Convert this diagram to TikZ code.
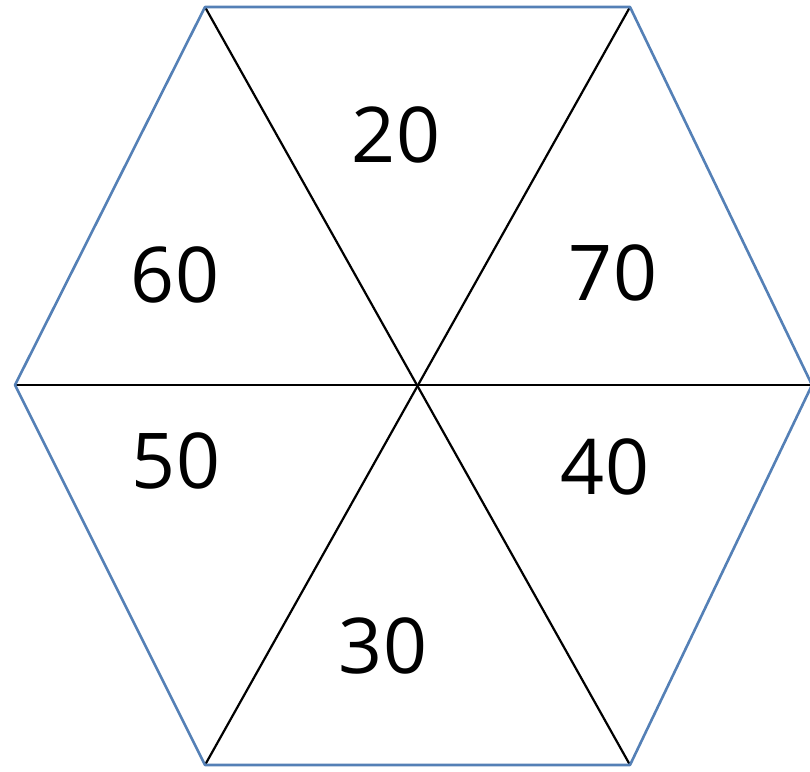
\documentclass[tikz,border=0pt]{standalone}
\usepackage{fontspec}
\setmainfont{Open Sans}
\definecolor{hexblue}{RGB}{84,128,182}
\begin{document}
\begin{tikzpicture}[x=1pt,y=1pt,
  rim/.style={draw=hexblue,line width=2.6pt,line join=round},
  spoke/.style={draw=black,line width=2.2pt},
  num/.style={font=\fontsize{77}{90}\selectfont,inner sep=0pt}]
\useasboundingbox (0,0) rectangle (810,771);
\coordinate (TL) at (205,764);
\coordinate (TR) at (630,764);
\coordinate (R) at (812,386);
\coordinate (BR) at (630,6);
\coordinate (BL) at (205,6);
\coordinate (L) at (15,386);
\coordinate (C) at (417,386);
\draw[spoke] (L) -- (R);
\draw[spoke] (TL) -- (BR);
\draw[spoke] (TR) -- (BL);
\draw[rim] (TL) -- (TR) -- (R) -- (BR) -- (BL) -- (L) -- cycle;
\node[num] (n20) at (396,636) {20};
\node[num] (n60) at (175,496) {60};
\node[num] (n70) at (613,498) {70};
\node[num] (n50) at (176,310) {50};
\node[num] (n40) at (605,304) {40};
\node[num] (n30) at (383,125) {30};
\end{tikzpicture}
\end{document}
